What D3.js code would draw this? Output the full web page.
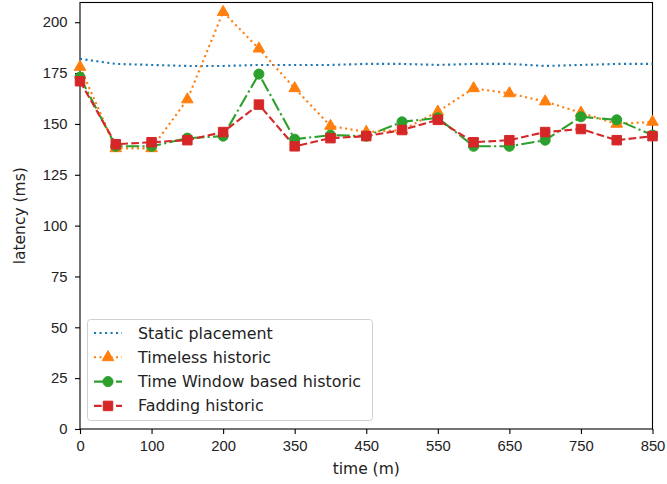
<!DOCTYPE html>
<html>
<head>
<meta charset="utf-8">
<script src="https://cdn.jsdelivr.net/npm/d3@7"></script>
<style>
  body { margin: 0; background: #fff; }
  svg { display: block; font-family: "DejaVu Sans", sans-serif; }
</style>
</head>
<body>
<svg id="chart"></svg>
<script>
// time points (m) -- plotted evenly spaced, as in the original figure
let times = [0, 50, 100, 150, 200, 275, 350, 400, 450, 500, 550, 600, 650, 700, 750, 800, 850];
let tickTimes = [0, 100, 200, 350, 450, 550, 650, 750, 850];
let yTicks = [0, 25, 50, 75, 100, 125, 150, 175, 200];

let staticPlacement = [182, 179.5, 179, 178.5, 178.5, 179, 179, 179, 179.5, 179.5, 179, 179.5, 179.5, 178.5, 179, 179.5, 179.5];
let timeless = [178, 138, 138, 162, 205, 187, 167.5, 149, 146, 147, 156, 167.5, 165, 161, 155.5, 150, 151];
let timeWindow = [173, 139, 139, 143, 144, 174.5, 142.5, 144.5, 144, 151, 153, 139, 139, 142, 153.5, 152, 144.5];
let fadding = [171, 140, 141, 142, 146, 159.5, 139, 143, 144, 147, 152, 141, 142, 146, 147.5, 142, 144];

let seriesNames = ["Static placement", "Timeless historic", "Time Window based historic", "Fadding historic"];

function getConfig() {
    let width = 667, height = 484;
    let margin = { top: 2.5, right: 15, bottom: 55, left: 80 };
    let bodyWidth = 652.5 - margin.left;
    let bodyHeight = 429 - margin.top;
    let container = d3.select("#chart").attr("width", width).attr("height", height);
    return { width, height, margin, bodyWidth, bodyHeight, container };
}

function getScales(cfg) {
    let x = d3.scalePoint().domain(times).range([0, cfg.bodyWidth]);
    let y = d3.scaleLinear().domain([0, 209.7]).range([cfg.bodyHeight, 0]);
    return { x, y };
}

function drawAxes(cfg, scales) {
    let { margin, container, bodyWidth, bodyHeight } = cfg;
    let g = container.append("g").attr("transform", `translate(${margin.left},${margin.top})`);

    let xAxis = g.append("g").attr("transform", `translate(0,${bodyHeight})`)
        .call(d3.axisBottom(scales.x).tickValues(tickTimes).tickSize(5).tickPadding(6.5));
    let yAxis = g.append("g")
        .call(d3.axisLeft(scales.y).tickValues(yTicks).tickSize(5).tickPadding(7.5));
    [xAxis, yAxis].forEach(a => {
        a.select(".domain").remove();
        a.selectAll("line").attr("stroke", "#000").attr("stroke-width", 1.1);
        a.selectAll("text").attr("fill", "#222").style("font-size", "14.8px");
    });

    g.append("rect")
        .attr("width", bodyWidth).attr("height", bodyHeight)
        .attr("fill", "none").attr("stroke", "#000").attr("stroke-width", 1.1);

    container.append("text")
        .attr("x", margin.left + bodyWidth / 2).attr("y", 474)
        .attr("text-anchor", "middle").attr("fill", "#222")
        .style("font-size", "15.5px").text("time (m)");
    container.append("text")
        .attr("transform", `translate(25,${margin.top + bodyHeight / 2}) rotate(-90)`)
        .attr("text-anchor", "middle").attr("fill", "#222")
        .style("font-size", "15.5px").text("latency (ms)");
    return g;
}

let styles = [
    { color: "#1f77b4", dash: "2.1,3.4", marker: null },
    { color: "#ff7f0e", dash: "2.1,3.4", marker: "triangle" },
    { color: "#2ca02c", dash: "13.3,3.3,2.1,3.3", marker: "circle" },
    { color: "#d62728", dash: "7.7,3.3", marker: "square" }
];

function markerPath(type) {
    if (type === "triangle") return d3.symbol().type(d3.symbolTriangle).size(58)();
    if (type === "circle") return d3.symbol().type(d3.symbolCircle).size(80)();
    if (type === "square") return d3.symbol().type(d3.symbolSquare).size(90)();
    return null;
}

function drawSeries(g, scales) {
    let all = [staticPlacement, timeless, timeWindow, fadding];
    let line = d3.line().x((d, i) => scales.x(times[i])).y(d => scales.y(d));
    all.forEach((vals, k) => {
        let st = styles[k];
        g.append("path").datum(vals)
            .attr("d", line)
            .attr("fill", "none")
            .attr("stroke", st.color)
            .attr("stroke-width", 2.1)
            .attr("stroke-dasharray", st.dash);
        if (st.marker) {
            g.selectAll(".m" + k).data(vals).enter().append("path")
                .attr("class", "m" + k)
                .attr("d", markerPath(st.marker))
                .attr("transform", (d, i) => `translate(${scales.x(times[i])},${scales.y(d)})`)
                .attr("fill", st.color)
                .attr("stroke", st.color)
                .attr("stroke-width", 1);
        }
    });
}

function drawLegend(cfg) {
    let container = cfg.container;
    let lg = container.append("g");
    lg.append("rect")
        .attr("x", 87.5).attr("y", 319.5).attr("width", 285).attr("height", 101)
        .attr("rx", 3)
        .attr("fill", "#fff").attr("fill-opacity", 0.8)
        .attr("stroke", "#d0d0d0").attr("stroke-width", 1);
    seriesNames.forEach((name, k) => {
        let st = styles[k];
        let yy = 333 + k * 24.3;
        lg.append("line")
            .attr("x1", 94).attr("x2", 122).attr("y1", yy).attr("y2", yy)
            .attr("stroke", st.color).attr("stroke-width", 2.1)
            .attr("stroke-dasharray", st.dash);
        if (st.marker) {
            lg.append("path").attr("d", markerPath(st.marker))
                .attr("transform", `translate(108,${yy})`)
                .attr("fill", st.color).attr("stroke", st.color).attr("stroke-width", 1);
        }
        lg.append("text")
            .attr("x", 138).attr("y", yy + 5.5)
            .attr("fill", "#222").style("font-size", "15.9px")
            .text(name);
    });
}

let cfg = getConfig();
let scales = getScales(cfg);
let plot = drawAxes(cfg, scales);
drawSeries(plot, scales);
drawLegend(cfg);
</script>
</body>
</html>
